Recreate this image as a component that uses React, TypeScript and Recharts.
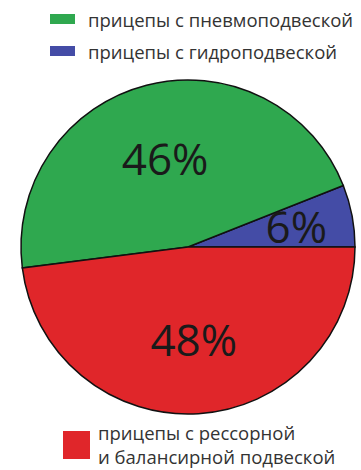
import { PieChart, Pie, Cell } from 'recharts';

const categories = [
  'прицепы с гидроподвеской',
  'прицепы с пневмоподвеской',
  'прицепы с рессорной и балансирной подвеской'
];
const shares = [6, 46, 48];
const colors = ['#444ca6', '#2fa84f', '#e0262a'];
const bottomLegendLines = ['прицепы с рессорной', 'и балансирной подвеской'];

const data = categories.map((name, i) => ({ name, value: shares[i] }));

const RADIAN = Math.PI / 180;

function renderLabel(props: any) {
  const { cx, cy, midAngle, outerRadius, value, index } = props;
  const r = outerRadius * (index === 0 ? 0.66 : 0.55);
  const x = cx + r * Math.cos(-midAngle * RADIAN);
  const y = cy + r * Math.sin(-midAngle * RADIAN);
  return (
    <text
      x={x}
      y={y}
      fill="#1a1a1a"
      fontSize={44}
      fontFamily="'Open Sans', sans-serif"
      textAnchor="middle"
      dominantBaseline="central"
    >
      {`${value}%`}
    </text>
  );
}

const legendText = { fontFamily: "'Open Sans', sans-serif", color: '#333', whiteSpace: 'nowrap' as const };

export default function App() {
  return (
    <div style={{ position: 'absolute', left: 0, top: 0, width: 361, height: 470, background: '#fff' }}>
      {/* top legend: pneumatic, hydraulic */}
      {[1, 0].map((i, row) => (
        <div
          key={i}
          style={{ position: 'absolute', left: 50, top: 8 + row * 32, display: 'flex', alignItems: 'center', height: 22 }}
        >
          <div style={{ width: 25, height: 10, background: colors[i], marginRight: 13 }} />
          <span style={{ ...legendText, fontSize: 18.5 }}>{categories[i]}</span>
        </div>
      ))}

      <PieChart
        width={361}
        height={470}
        margin={{ top: 0, right: 0, bottom: 0, left: 0 }}
        style={{ position: 'absolute', left: 0, top: 0 }}
      >
        <Pie
          data={data}
          dataKey="value"
          nameKey="name"
          cx={188}
          cy={247}
          outerRadius={167}
          startAngle={0}
          endAngle={360}
          stroke="#111"
          strokeWidth={1.5}
          label={renderLabel}
          labelLine={false}
          isAnimationActive={false}
        >
          {data.map((d, i) => (
            <Cell key={d.name} fill={colors[i]} />
          ))}
        </Pie>
      </PieChart>

      {/* bottom legend: leaf spring */}
      <div style={{ position: 'absolute', left: 63, top: 421, display: 'flex', alignItems: 'center' }}>
        <div style={{ width: 27, height: 28, background: colors[2], marginRight: 8 }} />
        <div>
          {bottomLegendLines.map((t) => (
            <div key={t} style={{ ...legendText, fontSize: 18.5, lineHeight: '24px', height: 24 }}>
              {t}
            </div>
          ))}
        </div>
      </div>
    </div>
  );
}
